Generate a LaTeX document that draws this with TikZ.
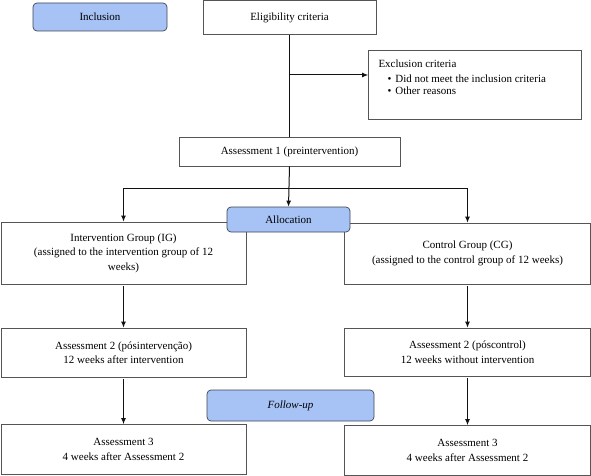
\documentclass[tikz,border=0pt]{standalone}
\usepackage{fontspec}
\setmainfont{Liberation Serif}
\usetikzlibrary{arrows.meta,calc}
\definecolor{stagefill}{HTML}{A7C3F6}
\definecolor{stageedge}{HTML}{3E4452}
\definecolor{boxedge}{HTML}{555555}
\definecolor{flowgrey}{HTML}{111111}
\tikzset{
  >={Latex[length=6pt,width=5pt]},
  font=\fontsize{11}{14.5}\selectfont,
  box/.style={draw=boxedge,line width=0.7pt,fill=white,inner sep=2pt,
              align=center},
  stage/.style={draw=stageedge,line width=0.7pt,rounded corners=4pt,
                fill=stagefill,inner sep=2pt,align=center},
  flow/.style={->,line width=1pt,draw=flowgrey},
}
\begin{document}
\begin{tikzpicture}[x=1pt,y=-1pt]
  \useasboundingbox (0,0) rectangle (591,476);

  \node[stage,minimum width=134pt,minimum height=28pt] (incl) at (100,17) {Inclusion};
  \node[box,minimum width=173pt,minimum height=34pt] (elig) at (289.5,17.5) {Eligibility criteria};
  \node[box,inner xsep=10pt,inner ysep=9pt] (excl) at (475,85)
    {\parbox[c][51pt][t]{193pt}{Exclusion criteria\\[0.5pt]
      \hspace*{9pt}\textbullet\hspace{4pt}Did not meet the inclusion criteria\\[-2.5pt]
      \hspace*{9pt}\textbullet\hspace{4pt}Other reasons}};
  \node[box,minimum width=221pt,minimum height=29pt] (assess1) at (289.5,151.5)
    {Assessment 1 (preintervention)};

  % the two group columns
  \node[box,minimum width=245pt,minimum height=62pt] (ig) at (123.5,253)
    {Intervention Group (IG)\\(assigned to the intervention group of 12\\weeks)};
  \node[box,minimum width=246pt,minimum height=61pt] (cg) at (467.5,253.5)
    {Control Group (CG)\\(assigned to the control group of 12 weeks)};
  \node[stage,minimum width=123pt,minimum height=25pt] (alloc) at (288.5,219.5) {Allocation};

  \node[box,minimum width=245pt,minimum height=49pt] (ig2) at (123.5,352.5)
    {Assessment 2 (pósintervenção)\\12 weeks after intervention};
  \node[box,minimum width=246pt,minimum height=48pt] (cg2) at (467.5,352)
    {Assessment 2 (póscontrol)\\12 weeks without intervention};
  \node[stage,minimum width=167pt,minimum height=31pt] (fu) at (290.5,405.5) {\itshape Follow-up};
  \node[box,minimum width=245pt,minimum height=50pt] (ig3) at (123.5,449.5)
    {Assessment 3\\4 weeks after Assessment 2};
  \node[box,minimum width=246pt,minimum height=50pt] (cg3) at (467.5,450.5)
    {Assessment 3\\4 weeks after Assessment 2};

  \coordinate (branch) at (289.5,75);
  \coordinate (split) at (289.5,188);

  \draw[line width=1pt,draw=flowgrey] (elig.south) -- (assess1.north);
  \draw[flow] (branch) -- (branch -| excl.west);
  \draw[flow] (assess1.south) -- (alloc.north);
  \draw[flow] (split) -| (ig.north);
  \draw[flow] (split) -| (cg.north);
  \draw[flow] ([yshift=-2pt]ig.south) -- (ig2.north);
  \draw[flow] ([yshift=-2pt]cg.south) -- (cg2.north);
  \draw[flow] ([yshift=-2pt]ig2.south) -- (ig3.north);
  \draw[flow] ([yshift=-2pt]cg2.south) -- (cg3.north);
\end{tikzpicture}
\end{document}
